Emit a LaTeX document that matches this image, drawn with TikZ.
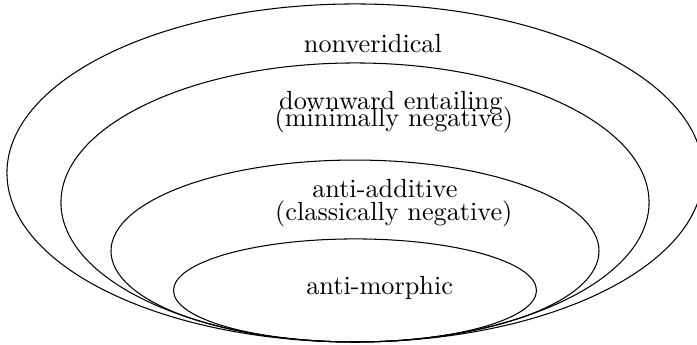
\documentclass[tikz,border=0pt]{standalone}
\begin{document}
\begin{tikzpicture}[every node/.style={inner sep=0pt, anchor=base}]
        \useasboundingbox (-4.753,-0.040) rectangle (4.579,4.579);
        \coordinate (tip) at (0,0);
        \draw (0,2.263) ellipse (4.660 and 2.263);
        \draw (0,1.868) ellipse (3.937 and 1.868);
        \draw (0,1.218) ellipse (3.267 and 1.218);
        \draw (0,0.690) ellipse (2.430 and 0.690);
        \node (nv) at (0.24,3.88) {nonveridical};
        \node (de) at (0.48,3.11) {downward entailing};
        \node (mn) at (0.52,2.88) {(minimally negative)};
        \node (aa) at (0.40,1.94) {anti-additive};
        \node (cn) at (0.52,1.63) {(classically negative)};
        \node (am) at (0.33,0.63) {anti-morphic};
    \end{tikzpicture}
\end{document}
